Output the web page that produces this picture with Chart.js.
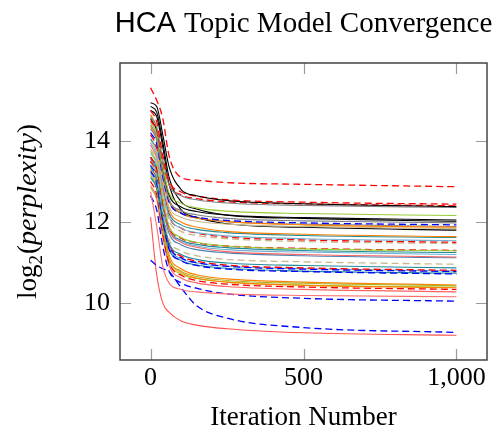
<!DOCTYPE html>
<html>
<head>
  <title>HCA Topic Model Convergence</title>
  <script src="https://cdn.jsdelivr.net/npm/chart.js"></script>
  <style>
    body { margin: 0; background: #fff; }
    canvas { display: block; }
  </style>
</head>
<body>
  <canvas id="myChart" width="493" height="434"></canvas>

  <script>
    // iteration numbers where each run was sampled
    const iterations = [0, 20, 40, 60, 100, 150, 250, 500, 1000];
    const xTicks = [0, 500, 1000];
    const yTicks = [10, 12, 14];

    // log2(perplexity) of each run
    const runs = [
      [15.31, 15.00, 14.55, 13.65, 13.10, 13.03, 12.97, 12.93, 12.87],
      [14.94, 14.85, 14.15, 13.38, 12.80, 12.65, 12.53, 12.45, 12.38],
      [14.75, 14.47, 13.64, 13.02, 12.74, 12.64, 12.55, 12.49, 12.44],
      [14.60, 14.33, 13.53, 12.92, 12.65, 12.55, 12.47, 12.41, 12.36],
      [14.50, 14.25, 13.49, 12.93, 12.67, 12.58, 12.50, 12.45, 12.40],
      [14.45, 14.18, 13.35, 12.73, 12.46, 12.35, 12.27, 12.21, 12.16],
      [14.85, 14.71, 13.97, 13.12, 12.50, 12.32, 12.17, 12.09, 12.02],
      [14.55, 14.25, 13.35, 12.68, 12.37, 12.26, 12.17, 12.11, 12.05],
      [14.30, 14.02, 13.19, 12.56, 12.28, 12.18, 12.09, 12.03, 11.98],
      [14.20, 13.93, 13.11, 12.50, 12.22, 12.12, 12.04, 11.98, 11.93],
      [14.65, 14.32, 13.32, 12.57, 12.23, 12.10, 12.01, 11.93, 11.87],
      [14.00, 13.74, 12.96, 12.38, 12.12, 12.02, 11.95, 11.89, 11.84],
      [14.75, 14.60, 13.84, 12.95, 12.30, 12.12, 11.96, 11.87, 11.80],
      [14.40, 14.10, 13.20, 12.52, 12.21, 12.10, 12.01, 11.95, 11.89],
      [14.35, 14.03, 13.05, 12.32, 12.00, 11.88, 11.77, 11.70, 11.64],
      [13.95, 13.66, 12.79, 12.14, 11.85, 11.74, 11.66, 11.59, 11.54],
      [14.15, 13.83, 12.88, 12.16, 11.85, 11.73, 11.63, 11.56, 11.50],
      [13.80, 13.52, 12.68, 12.05, 11.77, 11.67, 11.59, 11.52, 11.47],
      [14.05, 13.76, 12.88, 12.23, 11.93, 11.82, 11.74, 11.67, 11.62],
      [13.75, 13.46, 12.57, 11.91, 11.62, 11.50, 11.41, 11.34, 11.29],
      [13.60, 13.32, 12.50, 11.88, 11.60, 11.49, 11.41, 11.35, 11.30],
      [13.90, 13.57, 12.58, 11.83, 11.50, 11.38, 11.27, 11.20, 11.14],
      [13.55, 13.26, 12.38, 11.73, 11.44, 11.32, 11.24, 11.17, 11.12],
      [13.70, 13.40, 12.50, 11.83, 11.53, 11.41, 11.32, 11.26, 11.20],
      [13.45, 13.15, 12.26, 11.58, 11.29, 11.17, 11.08, 11.02, 10.96],
      [13.35, 13.05, 12.16, 11.49, 11.20, 11.08, 10.99, 10.93, 10.87],
      [13.50, 13.18, 12.21, 11.48, 11.16, 11.04, 10.94, 10.87, 10.81],
      [13.25, 12.95, 12.04, 11.35, 11.05, 10.93, 10.84, 10.78, 10.72],
      [13.10, 12.82, 11.97, 11.33, 11.05, 10.94, 10.86, 10.79, 10.74],
      [13.40, 13.09, 12.14, 11.44, 11.12, 11.00, 10.91, 10.84, 10.78],
      [13.15, 12.82, 11.84, 11.11, 10.79, 10.66, 10.56, 10.49, 10.43],
      [13.30, 12.95, 11.90, 11.11, 10.76, 10.62, 10.52, 10.44, 10.38],
      [13.00, 12.68, 11.72, 11.01, 10.69, 10.56, 10.47, 10.40, 10.34],
      [12.90, 12.59, 11.64, 10.94, 10.62, 10.50, 10.41, 10.34, 10.28],
      [12.85, 12.56, 11.67, 11.01, 10.72, 10.61, 10.52, 10.45, 10.40],
      [13.50, 13.13, 12.04, 11.21, 10.85, 10.70, 10.60, 10.52, 10.45],
      [12.75, 11.90, 10.90, 10.50, 10.34, 10.28, 10.23, 10.19, 10.16],
      [12.65, 12.30, 11.40, 10.80, 10.50, 10.37, 10.23, 10.12, 10.05],
      [11.06, 10.93, 10.85, 10.78, 10.38, 9.94, 9.63, 9.40, 9.28],
      [12.12, 10.70, 10.00, 9.78, 9.56, 9.46, 9.37, 9.27, 9.21],
      [13.60, 13.32, 12.47, 11.84, 11.55, 11.45, 11.37, 11.30, 11.25],
      [13.20, 12.91, 12.04, 11.39, 11.10, 10.99, 10.91, 10.85, 10.79]
    ];

    const runColors = [
      '#ff0000', '#000000', '#ff0000', '#808080', '#ff0000', '#9acd32',
      '#000000', '#000000', '#808080', '#0000ff', '#ff8000', '#c8b88a',
      '#000000', '#808080', '#ff8000', '#6fb0d0', '#ff0000', '#c8b88a',
      '#1f8a9a', '#9acd32', '#ff0000', '#ff6060', '#4682b4', '#6fb0d0',
      '#c8b88a', '#1f8a9a', '#ff0000', '#0000ff', '#1f8a9a', '#0000ff',
      '#b0b020', '#ff8000', '#ff0000', '#ff6060', '#9acd32', '#ff8000',
      '#ff7070', '#0000ff', '#0000ff', '#ff5050', '#1f8a9a', '#6fb0d0'
    ];
    const runDashed = [
      1, 0, 1, 0, 1, 0,
      0, 0, 0, 1, 0, 0,
      0, 0, 0, 0, 1, 1,
      0, 0, 1, 0, 0, 0,
      1, 0, 1, 1, 0, 1,
      0, 0, 1, 0, 0, 0,
      0, 1, 1, 0, 0, 0
    ];

    const datasets = runs.map((vals, i) => ({
      data: vals.map((v, j) => ({ x: iterations[j], y: v })),
      borderColor: runColors[i],
      borderWidth: runDashed[i] ? 1.3 : 1.1,
      borderDash: runDashed[i] ? [7, 4] : [],
      pointRadius: 0,
      fill: false,
      cubicInterpolationMode: 'monotone'
    }));

    // frame, inward ticks and the titles (mixed fonts)
    const decor = {
      id: 'decor',
      afterDatasetsDraw(chart) {
        const { ctx, chartArea: a, scales: { x, y } } = chart;
        ctx.save();
        ctx.strokeStyle = '#9a9a9a';
        ctx.lineWidth = 1.2;
        ctx.beginPath();
        xTicks.forEach(v => {
          const px = Math.round(x.getPixelForValue(v)) + 0.5;
          ctx.moveTo(px, a.bottom); ctx.lineTo(px, a.bottom - 11);
          ctx.moveTo(px, a.top); ctx.lineTo(px, a.top + 11);
        });
        yTicks.forEach(v => {
          const py = Math.round(y.getPixelForValue(v)) + 0.5;
          ctx.moveTo(a.left, py); ctx.lineTo(a.left + 11, py);
          ctx.moveTo(a.right, py); ctx.lineTo(a.right - 11, py);
        });
        ctx.stroke();
        ctx.strokeStyle = '#444';
        ctx.lineWidth = 1.5;
        ctx.strokeRect(a.left, a.top, a.right - a.left, a.bottom - a.top);

        const cx = (a.left + a.right) / 2;
        ctx.fillStyle = '#000';
        ctx.textBaseline = 'alphabetic';
        ctx.textAlign = 'left';

        // chart title
        const sans = '29px "Liberation Sans"', serif = '29px "Liberation Serif"';
        ctx.font = sans;
        const w1 = ctx.measureText('HCA ').width;
        ctx.font = serif;
        const w2 = ctx.measureText('Topic Model Convergence').width;
        let tx = cx - (w1 + w2) / 2;
        ctx.font = sans; ctx.fillText('HCA', tx, 32);
        ctx.font = serif; ctx.fillText('Topic Model Convergence', tx + w1, 32);

        // x axis title
        ctx.font = '27px "Liberation Serif"';
        ctx.textAlign = 'center';
        ctx.fillText('Iteration Number', cx, 425);

        // y axis title
        const parts = [
          ['log', '27px "Liberation Serif"', 0],
          ['2', '19px "Liberation Serif"', 6],
          ['(', '27px "Liberation Serif"', 0],
          ['perplexity', 'italic 28px "Liberation Serif"', 0],
          [')', '27px "Liberation Serif"', 0]
        ];
        ctx.textAlign = 'left';
        let total = 0;
        parts.forEach(p => { ctx.font = p[1]; total += ctx.measureText(p[0]).width + (p[0] === '2' ? 1 : 0); });
        ctx.translate(36, (a.top + a.bottom) / 2);
        ctx.rotate(-Math.PI / 2);
        let px = -total / 2;
        parts.forEach(p => {
          ctx.font = p[1];
          ctx.fillText(p[0], px, p[2]);
          px += ctx.measureText(p[0]).width + (p[0] === '2' ? 1 : 0);
        });
        ctx.restore();
      }
    };

    const ctx = document.getElementById('myChart').getContext('2d');
    const myChart = new Chart(ctx, {
      type: 'line',
      data: { datasets: datasets },
      options: {
        responsive: false,
        animation: false,
        layout: { padding: { top: 63, right: 6, left: 0, bottom: 0 } },
        plugins: { legend: { display: false }, tooltip: { enabled: false } },
        scales: {
          x: {
            type: 'linear',
            min: -100,
            max: 1100,
            afterBuildTicks: s => { s.ticks = xTicks.map(v => ({ value: v })); },
            afterFit: s => { s.height = 74; },
            grid: { display: false, drawTicks: false },
            border: { display: false },
            ticks: {
              padding: 3,
              color: '#000',
              font: { family: 'Liberation Serif', size: 26 },
              callback: v => v.toLocaleString('en-US')
            }
          },
          y: {
            min: 8.6,
            max: 15.92,
            afterBuildTicks: s => { s.ticks = yTicks.map(v => ({ value: v })); },
            afterFit: s => { s.width = 120; },
            grid: { display: false, drawTicks: false },
            border: { display: false },
            ticks: {
              padding: 10,
              color: '#000',
              font: { family: 'Liberation Serif', size: 26 }
            }
          }
        }
      },
      plugins: [decor]
    });
  </script>
</body>
</html>
